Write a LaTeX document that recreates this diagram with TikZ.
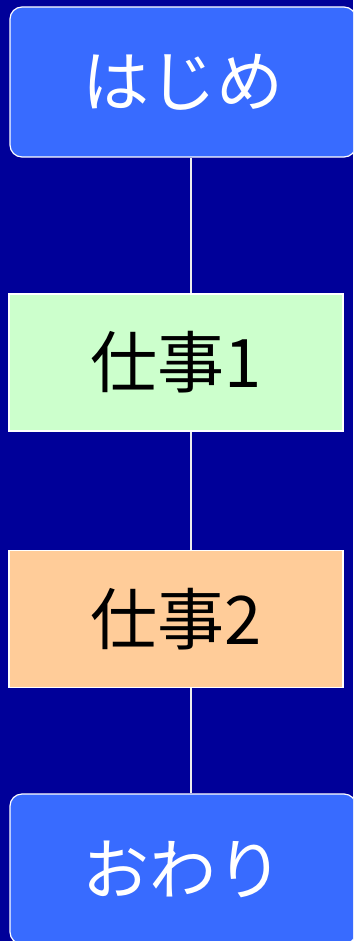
\documentclass[tikz,border=0pt]{standalone}
\usepackage{fontspec}
\newfontfamily\jp{Noto Sans CJK JP}
\definecolor{bgnavy}{RGB}{0,0,153}
\definecolor{termblue}{RGB}{56,107,255}
\definecolor{taskgreen}{RGB}{204,255,204}
\definecolor{taskorange}{RGB}{255,204,153}
\tikzset{
  termbox/.style={draw=white, line width=1.2pt, fill=termblue, rounded corners=12pt,
    text=white, font=\jp\fontsize{67}{72}\selectfont, minimum width=346pt, minimum height=150pt, inner sep=0pt},
  taskbox/.style={draw=white, line width=1.2pt, text=black,
    font=\jp\fontsize{67}{72}\selectfont, minimum width=334pt, minimum height=137pt, inner sep=0pt},
  link/.style={draw=white!85!gray, line width=1.2pt}
}
\begin{document}
\begin{tikzpicture}[x=1pt,y=-1pt]
\useasboundingbox (0,0) rectangle (353,941);
\fill[bgnavy] (0,0) rectangle (353,941);
\begin{scope}
\clip (0,0) rectangle (353,941);
\node[termbox] (start) at (183,82) {\raisebox{-4pt}{はじめ}};
\node[taskbox, fill=taskgreen] (t1) at (176,362.5) {\raisebox{-2pt}{仕事1}};
\node[taskbox, fill=taskorange] (t2) at (176,619) {\raisebox{-2pt}{仕事2}};
\node[termbox] (end) at (183,869) {\raisebox{-4pt}{おわり}};
\coordinate (lx) at (191,0);
\draw[link] (start.south -| lx) -- (t1.north -| lx);
\draw[link] (t1.south -| lx) -- (t2.north -| lx);
\draw[link] (t2.south -| lx) -- (end.north -| lx);
\end{scope}
\end{tikzpicture}
\end{document}
